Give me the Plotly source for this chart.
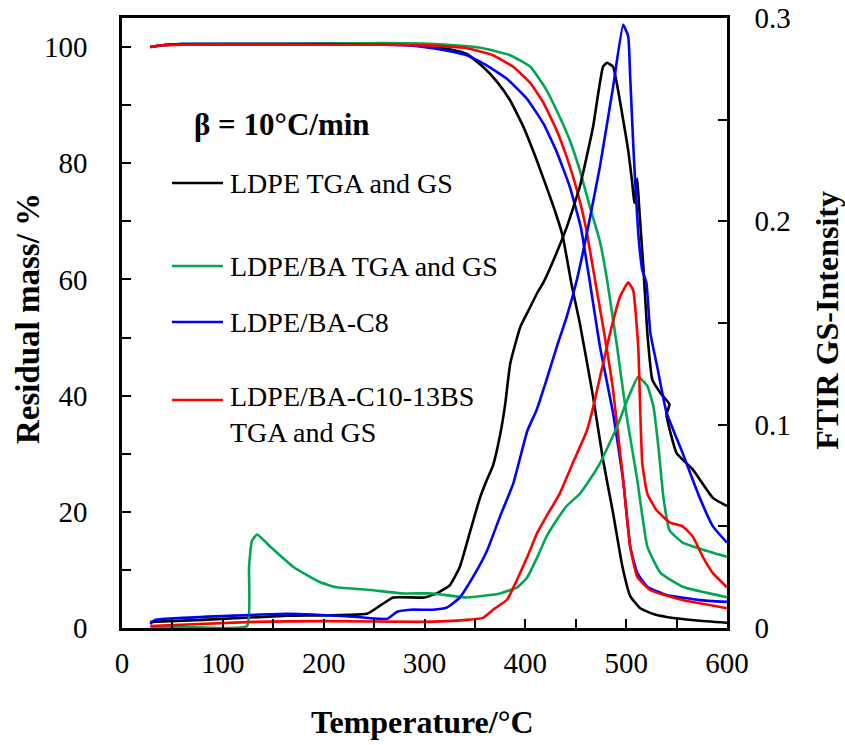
import plotly.graph_objects as go

# ---- TGA residual mass (%) vs temperature (°C) ----
ldpe_tga_t = [28, 40, 60, 150, 250, 290, 310, 325, 342, 358, 372, 385, 398, 412, 428, 437, 446, 454, 467, 477, 487, 496, 504, 514, 527, 540, 570, 600]
ldpe_tga_m = [100.0, 100.3, 100.5, 100.5, 100.6, 100.4, 100.1, 99.6, 98.8, 96.6, 94.0, 90.8, 86.3, 80.2, 72.5, 67.5, 59.0, 52.5, 40.0, 29.0, 19.8, 10.8, 5.5, 3.4, 2.4, 1.9, 1.3, 0.9]

ba_tga_t = [28, 40, 60, 200, 260, 300, 330, 358, 385, 405, 421, 434, 444, 454, 464, 474, 481, 491, 500, 511, 521, 534, 556, 600]
ba_tga_m = [100.0, 100.3, 100.5, 100.6, 100.7, 100.6, 100.3, 99.8, 98.6, 96.6, 92.6, 88.0, 84.0, 78.8, 72.5, 66.5, 60.0, 48.4, 37.0, 25.5, 14.0, 9.5, 7.1, 5.3]

c8_tga_t = [28, 40, 60, 200, 260, 290, 308, 325, 342, 362, 382, 402, 418, 431, 444, 455, 464, 474, 487, 497, 504, 511, 521, 540, 573, 600]
c8_tga_m = [100.0, 100.3, 100.5, 100.5, 100.4, 100.2, 99.8, 99.3, 98.6, 96.8, 94.5, 91.0, 86.8, 82.0, 76.0, 69.0, 59.5, 48.4, 37.0, 25.5, 14.0, 9.5, 7.1, 5.7, 4.8, 4.5]

c10_tga_t = [28, 40, 60, 200, 260, 300, 342, 368, 388, 405, 418, 431, 441, 451, 460, 470, 478, 487, 497, 504, 511, 524, 556, 600]
c10_tga_m = [100.0, 100.3, 100.4, 100.4, 100.4, 100.3, 99.8, 98.6, 96.6, 93.8, 90.4, 85.7, 81.1, 75.5, 69.0, 59.0, 51.0, 41.0, 25.5, 14.0, 8.8, 6.5, 4.8, 3.4]

# ---- FTIR gas-species (GS) intensity vs temperature (°C) ----
ldpe_gs_t = [28, 80, 164, 243, 256, 269, 300, 312, 325, 335, 345, 355, 362, 368, 375, 380, 385, 395, 405, 412, 418, 428, 441, 454, 467, 477, 481, 487, 497, 502, 506, 508, 511, 513, 517, 521, 526, 534, 543, 540, 550, 566, 586, 600]
ldpe_gs_i = [0.003, 0.004, 0.006, 0.007, 0.011, 0.015, 0.015, 0.017, 0.021, 0.030, 0.047, 0.064, 0.073, 0.080, 0.095, 0.110, 0.130, 0.148, 0.158, 0.165, 0.170, 0.181, 0.197, 0.217, 0.246, 0.276, 0.278, 0.276, 0.250, 0.235, 0.219, 0.209, 0.221, 0.206, 0.178, 0.145, 0.122, 0.1156, 0.110, 0.105, 0.086, 0.078, 0.064, 0.060]

ba_gs_t = [28, 60, 124, 126, 129, 134, 147, 170, 196, 213, 246, 279, 308, 342, 375, 392, 402, 412, 421, 431, 441, 454, 464, 474, 491, 501, 512, 521, 527, 532, 537, 543, 556, 573, 600]
ba_gs_i = [0.000, 0.0005, 0.001, 0.030, 0.043, 0.046, 0.040, 0.030, 0.0226, 0.020, 0.0187, 0.017, 0.017, 0.015, 0.017, 0.020, 0.025, 0.035, 0.045, 0.053, 0.060, 0.066, 0.073, 0.081, 0.099, 0.112, 0.1235, 0.119, 0.109, 0.089, 0.064, 0.048, 0.042, 0.039, 0.035]

c8_gs_t = [28, 33, 60, 164, 229, 255, 263, 273, 286, 308, 322, 335, 348, 362, 375, 388, 402, 411, 421, 431, 441, 451, 461, 474, 487, 497, 502, 504, 507, 509, 512, 516, 520, 524, 531, 540, 556, 573, 586, 600]
c8_gs_i = [0.002, 0.004, 0.005, 0.007, 0.0055, 0.0045, 0.0045, 0.008, 0.009, 0.009, 0.010, 0.015, 0.025, 0.038, 0.055, 0.071, 0.097, 0.107, 0.122, 0.138, 0.153, 0.171, 0.194, 0.227, 0.266, 0.2966, 0.291, 0.271, 0.238, 0.219, 0.194, 0.176, 0.170, 0.145, 0.128, 0.106, 0.086, 0.064, 0.050, 0.042]

c10_gs_t = [28, 130, 200, 296, 342, 358, 368, 382, 392, 402, 412, 421, 434, 447, 461, 467, 484, 494, 502, 507, 512, 514, 516, 521, 530, 543, 556, 566, 576, 586, 600]
c10_gs_i = [0.001, 0.003, 0.0034, 0.003, 0.004, 0.005, 0.009, 0.014, 0.024, 0.035, 0.047, 0.055, 0.066, 0.081, 0.097, 0.108, 0.145, 0.163, 0.170, 0.166, 0.138, 0.106, 0.081, 0.066, 0.058, 0.052, 0.050, 0.045, 0.035, 0.027, 0.020]

BLACK = "#000000"
GREEN = "#00A651"
BLUE = "#0000FF"
RED = "#FF0000"
FONT = "Liberation Serif"
LW = 2.6

series = [
    (ldpe_tga_t, ldpe_tga_m, "y", BLACK),
    (ba_tga_t, ba_tga_m, "y", GREEN),
    (c8_tga_t, c8_tga_m, "y", BLUE),
    (c10_tga_t, c10_tga_m, "y", RED),
    (ldpe_gs_t, ldpe_gs_i, "y2", BLACK),
    (ba_gs_t, ba_gs_i, "y2", GREEN),
    (c8_gs_t, c8_gs_i, "y2", BLUE),
    (c10_gs_t, c10_gs_i, "y2", RED),
]

fig = go.Figure()
for t, v, ax, col in series:
    fig.add_trace(go.Scatter(x=t, y=v, yaxis=ax, mode="lines",
                             line=dict(color=col, width=LW, shape="spline", smoothing=0.4),
                             showlegend=False, hoverinfo="skip"))

axis_common = dict(showline=True, linecolor="black", linewidth=2.5, ticks="inside",
                   tickcolor="black", tickwidth=2, ticklen=9, showgrid=False, zeroline=False,
                   tickfont=dict(family=FONT, size=29, color="black"))

fig.update_layout(
    width=845, height=745,
    margin=dict(l=122, r=118, t=18, b=117, autoexpand=False),
    paper_bgcolor="white", plot_bgcolor="white",
    xaxis=dict(range=[0, 600], dtick=100, mirror=True, ticklabelstandoff=7,
               minor=dict(dtick=50, ticks="inside", ticklen=9, tickwidth=2, tickcolor="black"),
               **axis_common),
    yaxis=dict(range=[0, 105], dtick=20, mirror=True, ticklabelstandoff=26,
               minor=dict(dtick=10, ticks="inside", ticklen=9, tickwidth=2, tickcolor="black"),
               **axis_common),
    yaxis2=dict(range=[0, 0.3], dtick=0.1, overlaying="y", side="right", ticklabelstandoff=19,
                tickvals=[0, 0.1, 0.2, 0.3], ticktext=["0", "0.1", "0.2", "0.3"],
                minor=dict(dtick=0.05, ticks="inside", ticklen=9, tickwidth=2, tickcolor="black"),
                **axis_common),
)

# Axis titles
fig.add_annotation(text="<b>Temperature/°C</b>", xref="paper", yref="paper", x=0.496, y=-0.154,
                   showarrow=False, font=dict(family=FONT, size=32, color="black"),
                   xanchor="center", yanchor="middle")
fig.add_annotation(text="<b>Residual mass/ %</b>", xref="paper", yref="paper", x=-0.1554, y=0.508,
                   textangle=-90, showarrow=False, font=dict(family=FONT, size=33, color="black"),
                   xanchor="center", yanchor="middle")
fig.add_annotation(text="<b>FTIR GS-Intensity</b>", xref="paper", yref="paper", x=1.165, y=0.505,
                   textangle=-90, showarrow=False, font=dict(family=FONT, size=32, color="black"),
                   xanchor="center", yanchor="middle")

# Heating rate label
fig.add_annotation(text="<b>β = 10°C/min</b>", xref="paper", yref="paper", x=0.1157, y=0.8246,
                   showarrow=False, font=dict(family=FONT, size=31, color="black"),
                   xanchor="left", yanchor="middle")

# Hand-placed key
legend_items = [
    ("LDPE TGA and GS", BLACK, 0.7295, 0.7295),
    ("LDPE/BA TGA and GS", GREEN, 0.5934, 0.5934),
    ("LDPE/BA-C8", BLUE, 0.5016, 0.5016),
    ("LDPE/BA-C10-13BS<br>TGA and GS", RED, 0.3738, 0.3492),
]
for label, col, yline, ytext in legend_items:
    fig.add_shape(type="line", xref="paper", yref="paper", x0=0.0826, x1=0.1669,
                  y0=yline, y1=yline, line=dict(color=col, width=LW))
    fig.add_annotation(text=label, xref="paper", yref="paper", x=0.1752, y=ytext,
                       showarrow=False, align="left",
                       font=dict(family=FONT, size=28, color="black"),
                       xanchor="left", yanchor="middle")

fig.write_html("out.html")
